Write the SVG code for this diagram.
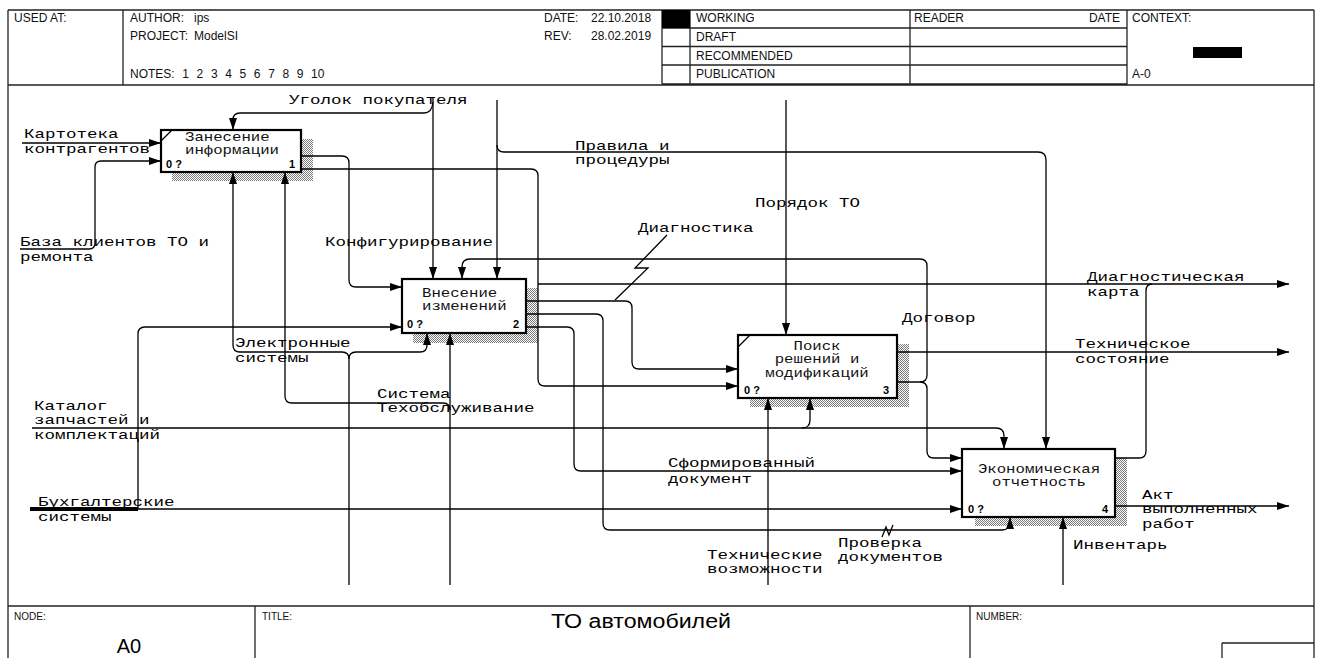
<svg xmlns="http://www.w3.org/2000/svg" width="1322" height="658" viewBox="0 0 1322 658">
<defs>
<pattern id="hatch" width="2" height="2" patternUnits="userSpaceOnUse"><rect width="2" height="2" fill="#fff"/><rect x="0" y="0" width="1" height="1" fill="#7a7a7a"/><rect x="1" y="1" width="1" height="1" fill="#7a7a7a"/></pattern>
<marker id="ah" viewBox="0 0 12 10" refX="12" refY="5" markerWidth="12" markerHeight="10" markerUnits="userSpaceOnUse" orient="auto"><path d="M0,1 L12,5 L0,9 Z" fill="#000"/></marker>
<style>
.fr{fill:none;stroke:#222;stroke-width:1.3}
.ln{fill:none;stroke:#000;stroke-width:1.3}
.ar{marker-end:url(#ah)}
.box{fill:#fff;stroke:#000;stroke-width:2.2}
.sh{fill:url(#hatch)}
.lb{font-family:"Liberation Mono","DejaVu Sans Mono",monospace;font-size:13px;fill:#000}
.bx{font-family:"Liberation Mono","DejaVu Sans Mono",monospace;font-size:13px;fill:#111}
.num{font-family:"Liberation Sans",Arial,sans-serif;font-size:11px;font-weight:bold;fill:#000}
.hd{font-family:"Liberation Sans",Arial,sans-serif;font-size:12px;fill:#111}
.ft{font-family:"Liberation Sans",Arial,sans-serif;font-size:10px;fill:#111}
.big{font-family:"Liberation Sans",Arial,sans-serif;font-size:20px;fill:#000}
</style>
</defs>
<rect width="1322" height="658" fill="#fff"/>

<g id="header">
<path class="fr" d="M8,10 H1314 M8,10 V658 M1314,10 V658 M8,85 H1314 M123,10 V85 M662,10 V84 M690,10 V84 M910,10 V84 M1127,10 V85 M662,28 H1127 M662,46.5 H1127 M662,65 H1127 M662,84 H1127"/>
<rect x="662" y="10" width="28" height="18" fill="#000"/>
<rect x="1193" y="47" width="49" height="11" fill="#000"/>
<text class="hd" x="14" y="22">USED AT:</text>
<text class="hd" x="130" y="22">AUTHOR:</text><text class="hd" x="194" y="22">ips</text>
<text class="hd" x="130" y="40">PROJECT:</text><text class="hd" x="194" y="40">ModelSI</text>
<text class="hd" x="130" y="78" word-spacing="4.3">NOTES: 1 2 3 4 5 6 7 8 9 10</text>
<text class="hd" x="544" y="22">DATE:</text><text class="hd" x="591" y="22">22.10.2018</text>
<text class="hd" x="544" y="40">REV:</text><text class="hd" x="591" y="40">28.02.2019</text>
<text class="hd" x="696" y="22">WORKING</text>
<text class="hd" x="696" y="41">DRAFT</text>
<text class="hd" x="696" y="60">RECOMMENDED</text>
<text class="hd" x="696" y="78">PUBLICATION</text>
<text class="hd" x="914" y="22">READER</text>
<text class="hd" x="1120" y="22" text-anchor="end">DATE</text>
<text class="hd" x="1132" y="22">CONTEXT:</text>
<text class="hd" x="1132" y="78">A-0</text>
</g>

<g id="footer">
<path class="fr" d="M8,606 H1314 M255,606 V658 M970,606 V658 M1222,643 H1314 M1222,643 V658"/>
<text class="ft" x="14" y="620">NODE:</text>
<text class="ft" x="262" y="620">TITLE:</text>
<text class="ft" x="976" y="620">NUMBER:</text>
<text class="big" x="129" y="653" text-anchor="middle">A0</text>
<text class="big" x="641" y="628" text-anchor="middle" textLength="180" lengthAdjust="spacingAndGlyphs">ТО автомобилей</text>
</g>

<g id="node1">
<rect class="sh" x="172" y="139" width="141" height="42"/>
<rect class="box" x="161" y="130" width="140" height="42"/>
<path class="ln" d="M161,141 L172,130"/>
<text class="bx" x="185" y="141" textLength="84.6" lengthAdjust="spacingAndGlyphs">Занесение</text>
<text class="bx" x="185" y="154" textLength="94" lengthAdjust="spacingAndGlyphs">информации</text>
<text class="num" x="166" y="168">0 ?</text>
<text class="num" x="289" y="168">1</text>
</g>

<g id="node2">
<rect class="sh" x="413" y="288" width="125" height="55"/>
<rect class="box" x="402" y="279" width="124" height="54"/>
<text class="bx" x="422" y="297" textLength="75.2" lengthAdjust="spacingAndGlyphs">Внесение</text>
<text class="bx" x="422" y="310" textLength="84.6" lengthAdjust="spacingAndGlyphs">изменений</text>
<text class="num" x="407" y="328">0 ?</text>
<text class="num" x="513" y="328">2</text>
</g>

<g id="node3">
<rect class="sh" x="750" y="344" width="159" height="63"/>
<rect class="box" x="738" y="335" width="159" height="63"/>
<path class="ln" d="M738,347 L750,335"/>
<text class="bx" x="817" y="350" text-anchor="middle" textLength="47" lengthAdjust="spacingAndGlyphs">Поиск</text>
<text class="bx" x="817" y="363" text-anchor="middle" textLength="84.6" lengthAdjust="spacingAndGlyphs">решений и</text>
<text class="bx" x="817" y="377" text-anchor="middle" textLength="103.4" lengthAdjust="spacingAndGlyphs">модификаций</text>
<text class="num" x="744" y="394">0 ?</text>
<text class="num" x="883" y="394">3</text>
</g>

<g id="node4">
<rect class="sh" x="975" y="458" width="152" height="68"/>
<rect class="box" x="962" y="449" width="153" height="68"/>
<text class="bx" x="1039" y="473" text-anchor="middle" textLength="122.2" lengthAdjust="spacingAndGlyphs">Экономическая</text>
<text class="bx" x="1039" y="486" text-anchor="middle" textLength="94" lengthAdjust="spacingAndGlyphs">отчетность</text>
<text class="num" x="968" y="513">0 ?</text>
<text class="num" x="1102" y="513">4</text>
</g>

<g id="connectors">
<!-- Картотека контрагентов -->
<path class="ln ar" d="M22,143 H161"/>
<!-- База клиентов -->
<path class="ln ar" d="M20,249 H89 Q95,249 95,243 V167 Q95,161 101,161 H161"/>
<!-- Уголок покупателя -->
<path class="ln ar" d="M433,97 V279"/>
<path class="ln ar" d="M433,102 Q432,113 424,113 H240 Q233,113 233,120 V130"/>
<!-- Правила и процедуры -->
<path class="ln ar" d="M497,100 V279"/>
<path class="ln ar" d="M497,145 Q497,152 504,152 H1038 Q1046,152 1046,160 V449"/>
<!-- Порядок ТО -->
<path class="ln ar" d="M786,100 V335"/>
<!-- Конфигурирование -->
<path class="ln ar" d="M301,156 H342 Q349,156 349,163 V280 Q349,287 356,287 H402"/>
<!-- box1 output 2 -> box3 / Диагностическая карта -->
<path class="ln ar" d="M301,169 H531 Q538,169 538,176 V379 Q538,386 545,386 H738"/>
<path class="ln ar" d="M538,284 H1289"/>
<!-- Диагностика -->
<path class="ln ar" d="M526,301 H625 Q632,301 632,308 V362 Q632,369 639,369 H738"/>
<path class="ln" d="M615,300 L648,268 L635,268 L667,235"/>
<!-- Проверка документов -->
<path class="ln ar" d="M526,314 H596 Q603,314 603,321 V523 Q603,530 610,530 H1002 Q1010,530 1010,522 V517"/>
<path class="ln" d="M882,537 L886,527 L889,535 L893,525"/>
<!-- Сформированный документ -->
<path class="ln ar" d="M526,327 H567 Q574,327 574,334 V464 Q574,471 581,471 H962"/>
<!-- Техническое состояние -->
<path class="ln ar" d="M897,352 H1289"/>
<!-- Договор -->
<path class="ln ar" d="M897,382 H920 Q927,382 927,375 V266 Q927,259 920,259 H470 Q462,259 462,267 V279"/>
<path class="ln ar" d="M920,382 Q927,382 927,389 V451 Q927,458 934,458 H962"/>
<!-- box4 output to Диагностическая карта -->
<path class="ln" d="M1115,458 H1139 Q1146,458 1146,451 V291 Q1146,284 1152,284"/>
<!-- Акт выполненных работ -->
<path class="ln ar" d="M1115,506 H1289"/>
<!-- Бухгалтерские системы -->
<path d="M30,509 H138" fill="none" stroke="#000" stroke-width="4"/>
<path class="ln ar" d="M138,509 H962"/>
<path class="ln ar" d="M138,509 V334 Q138,327 145,327 H402"/>
<!-- Каталог -->
<path class="ln ar" d="M32,428 H996 Q1004,428 1004,436 V449"/>
<path class="ln ar" d="M802,428 Q810,428 810,420 V398"/>
<!-- Электронные системы -->
<path class="ln ar" d="M349,585 V359 Q349,352 342,352 H240 Q233,352 233,345 V172"/>
<path class="ln ar" d="M349,359 Q349,352 356,352 H420 Q427,352 427,345 V333"/>
<!-- Система Техобслуживание -->
<path class="ln ar" d="M450,585 V333"/>
<path class="ln ar" d="M450,410 Q450,403 443,403 H292 Q285,403 285,396 V172"/>
<!-- Технические возможности -->
<path class="ln ar" d="M768,585 V398"/>
<!-- Инвентарь -->
<path class="ln ar" d="M1063,585 V517"/>
</g>

<g id="labels">
<text class="lb" x="289" y="104" textLength="178.5" lengthAdjust="spacingAndGlyphs">Уголок покупателя</text>
<text class="lb" x="24" y="138" textLength="94.5" lengthAdjust="spacingAndGlyphs">Картотека</text>
<text class="lb" x="24" y="153" textLength="126" lengthAdjust="spacingAndGlyphs">контрагентов</text>
<text class="lb" x="20" y="246" textLength="189" lengthAdjust="spacingAndGlyphs">База клиентов ТО и</text>
<text class="lb" x="20" y="261" textLength="73.5" lengthAdjust="spacingAndGlyphs">ремонта</text>
<text class="lb" x="575" y="150" textLength="94.5" lengthAdjust="spacingAndGlyphs">Правила и</text>
<text class="lb" x="575" y="164" textLength="94.5" lengthAdjust="spacingAndGlyphs">процедуры</text>
<text class="lb" x="325" y="246" textLength="168" lengthAdjust="spacingAndGlyphs">Конфигурирование</text>
<text class="lb" x="638" y="232" textLength="115.5" lengthAdjust="spacingAndGlyphs">Диагностика</text>
<text class="lb" x="755" y="207" textLength="105" lengthAdjust="spacingAndGlyphs">Порядок ТО</text>
<text class="lb" x="902" y="322" textLength="73.5" lengthAdjust="spacingAndGlyphs">Договор</text>
<text class="lb" x="1087" y="281" textLength="157.5" lengthAdjust="spacingAndGlyphs">Диагностическая</text>
<text class="lb" x="1087" y="296" textLength="52.5" lengthAdjust="spacingAndGlyphs">карта</text>
<text class="lb" x="1075" y="348" textLength="115.5" lengthAdjust="spacingAndGlyphs">Техническое</text>
<text class="lb" x="1075" y="363" textLength="94.5" lengthAdjust="spacingAndGlyphs">состояние</text>
<text class="lb" x="235" y="347" textLength="115.5" lengthAdjust="spacingAndGlyphs">Электронные</text>
<text class="lb" x="235" y="362" textLength="73.5" lengthAdjust="spacingAndGlyphs">системы</text>
<text class="lb" x="377" y="398" textLength="73.5" lengthAdjust="spacingAndGlyphs">Система</text>
<text class="lb" x="377" y="412" textLength="157.5" lengthAdjust="spacingAndGlyphs">Техобслуживание</text>
<text class="lb" x="34" y="410" textLength="73.5" lengthAdjust="spacingAndGlyphs">Каталог</text>
<text class="lb" x="34" y="424" textLength="115.5" lengthAdjust="spacingAndGlyphs">запчастей и</text>
<text class="lb" x="34" y="439" textLength="126" lengthAdjust="spacingAndGlyphs">комплектаций</text>
<text class="lb" x="668" y="467" textLength="147" lengthAdjust="spacingAndGlyphs">Сформированный</text>
<text class="lb" x="668" y="483" textLength="84" lengthAdjust="spacingAndGlyphs">документ</text>
<text class="lb" x="38" y="506" textLength="136.5" lengthAdjust="spacingAndGlyphs">Бухгалтерские</text>
<text class="lb" x="38" y="521" textLength="73.5" lengthAdjust="spacingAndGlyphs">системы</text>
<text class="lb" x="1142" y="499" textLength="31.5" lengthAdjust="spacingAndGlyphs">Акт</text>
<text class="lb" x="1142" y="513" textLength="115.5" lengthAdjust="spacingAndGlyphs">выполненных</text>
<text class="lb" x="1142" y="528" textLength="52.5" lengthAdjust="spacingAndGlyphs">работ</text>
<text class="lb" x="707" y="559" textLength="115.5" lengthAdjust="spacingAndGlyphs">Технические</text>
<text class="lb" x="707" y="573" textLength="115.5" lengthAdjust="spacingAndGlyphs">возможности</text>
<text class="lb" x="838" y="547" textLength="84" lengthAdjust="spacingAndGlyphs">Проверка</text>
<text class="lb" x="838" y="561" textLength="105" lengthAdjust="spacingAndGlyphs">документов</text>
<text class="lb" x="1073" y="549" textLength="94.5" lengthAdjust="spacingAndGlyphs">Инвентарь</text>
</g>
</svg>
